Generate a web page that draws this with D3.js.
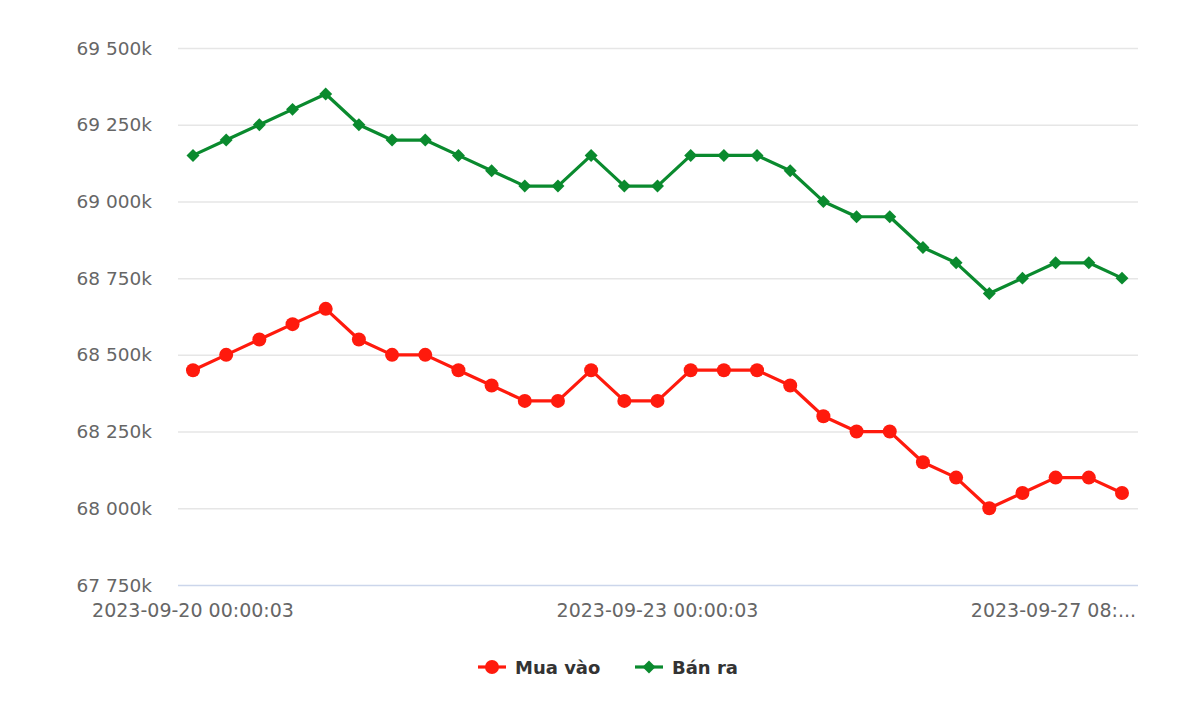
<!DOCTYPE html>
<html><head><meta charset="utf-8">
<script src="https://cdn.jsdelivr.net/npm/d3@7"></script>
<style>body{margin:0;background:#fff}svg{display:block}</style>
</head><body><svg id="c" width="1200" height="716"></svg>
<script>
const categories = [
"2023-09-20 00:00:03","2023-09-20 08:00:03","2023-09-20 16:00:03","2023-09-21 00:00:03","2023-09-21 08:00:03",
"2023-09-21 16:00:03","2023-09-22 00:00:03","2023-09-22 08:00:03","2023-09-22 12:00:03","2023-09-22 14:00:03",
"2023-09-22 16:00:03","2023-09-22 18:00:03","2023-09-22 20:00:03","2023-09-22 22:00:03","2023-09-23 00:00:03",
"2023-09-23 08:00:03","2023-09-24 00:00:03","2023-09-25 00:00:03","2023-09-25 08:00:03","2023-09-25 16:00:03",
"2023-09-26 00:00:03","2023-09-26 08:00:03","2023-09-26 12:00:03","2023-09-26 16:00:03","2023-09-26 20:00:03",
"2023-09-27 00:00:03","2023-09-27 04:00:03","2023-09-27 06:00:03","2023-09-27 08:00:03"];
const muaVao = [68450,68500,68550,68600,68650,68550,68500,68500,68450,68400,68350,68350,68450,68350,68350,
68450,68450,68450,68400,68300,68250,68250,68150,68100,68000,68050,68100,68100,68050];
const banRa = [69150,69200,69250,69300,69350,69250,69200,69200,69150,69100,69050,69050,69150,69050,69050,
69150,69150,69150,69100,69000,68950,68950,68850,68800,68700,68750,68800,68800,68750];
const yTicks = [67750,68000,68250,68500,68750,69000,69250,69500];
const xTickIdx = [0,14,28];
const seriesNames = ["Mua vào","Bán ra"];

const svg = d3.select("#c");
const L=178,R=1138,T=48,B=585;
const x = d3.scalePoint().domain(d3.range(categories.length)).range([193,1122]);
const y = d3.scaleLinear().domain([67750,69500]).range([B,T]);
const fmt = v => { const s = String(v/1000|0)+String(v%1000).padStart(3,"0"); return s.slice(0,2)+" "+s.slice(2,5)+"k"; };
const ff = "DejaVu Sans, sans-serif";

// grid
svg.append("g").selectAll("line").data(yTicks.slice(1)).join("line")
 .attr("x1",L).attr("x2",R).attr("y1",d=>y(d)+0.5).attr("y2",d=>y(d)+0.5)
 .attr("stroke","#e6e6e6").attr("stroke-width",1.5);
svg.append("line").attr("x1",L).attr("x2",R).attr("y1",B+0.5).attr("y2",B+0.5).attr("stroke","#ccd6eb").attr("stroke-width",1.5);
svg.append("g").selectAll("text").data(yTicks).join("text")
 .attr("x",152).attr("y",d=>y(d)+6.5).attr("text-anchor","end")
 .attr("font-family",ff).attr("font-size",18.5).attr("fill","#666").text(fmt);
// x labels
svg.append("g").selectAll("text").data(xTickIdx).join("text")
 .attr("x",d=> d===28 ? 1136 : x(d)).attr("y",617)
 .attr("text-anchor",d=> d===28 ? "end":"middle")
 .attr("font-family",ff).attr("font-size",19).attr("fill","#666")
 .text(d=> d===28 ? categories[d].slice(0,14)+"..." : categories[d]);

const line = d3.line().x((d,i)=>x(i)).y(d=>y(d));
const diamond = d3.symbol().type(d3.symbolSquare).size(84);
function drawSeries(data,color,type){
  svg.append("path").datum(data).attr("d",line).attr("fill","none").attr("stroke",color).attr("stroke-width",3.2).attr("stroke-linejoin","round");
  const g = svg.append("g");
  if(type==="circle") g.selectAll("circle").data(data).join("circle").attr("cx",(d,i)=>x(i)).attr("cy",d=>y(d)).attr("r",7).attr("fill",color);
  else g.selectAll("path").data(data).join("path").attr("d",diamond).attr("transform",(d,i)=>`translate(${x(i)},${y(d)}) rotate(45)`).attr("fill",color);
}
drawSeries(muaVao,"#ff1a0d","circle");
drawSeries(banRa,"#0a8a2e","diamond");

// legend
const lg = svg.append("g");
const items=[{n:seriesNames[0],c:"#ff1a0d",t:"circle",x:478},{n:seriesNames[1],c:"#0a8a2e",t:"diamond",x:635}];
items.forEach(it=>{
  lg.append("line").attr("x1",it.x).attr("x2",it.x+28).attr("y1",667).attr("y2",667).attr("stroke",it.c).attr("stroke-width",3.2);
  if(it.t==="circle") lg.append("circle").attr("cx",it.x+14).attr("cy",667).attr("r",7).attr("fill",it.c);
  else lg.append("path").attr("d",diamond).attr("transform",`translate(${it.x+14},667) rotate(45)`).attr("fill",it.c);
  lg.append("text").attr("x",it.x+37).attr("y",674).attr("font-family",ff).attr("font-size",18).attr("font-weight","bold").attr("fill","#333").text(it.n);
});
</script></body></html>
